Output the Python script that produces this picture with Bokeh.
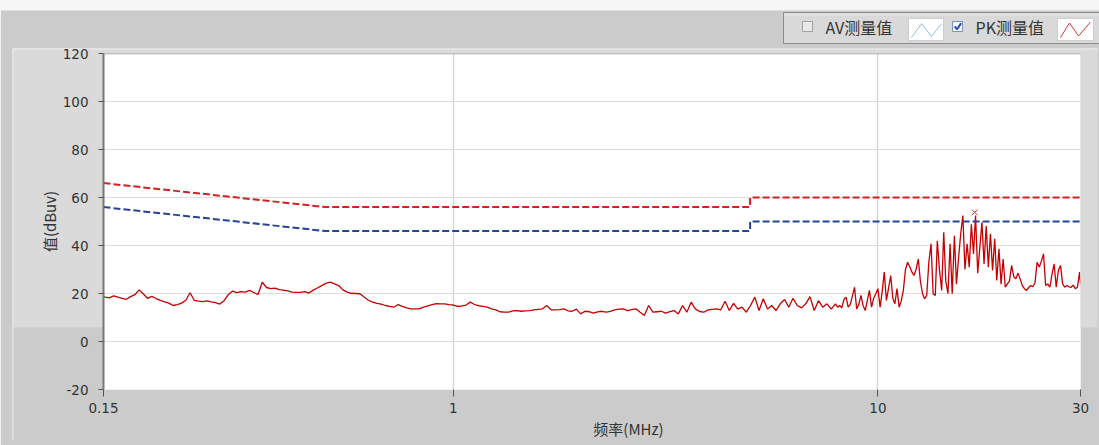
from math import log10, pi
from bokeh.plotting import figure
from bokeh.models import Span, FixedTicker, CustomJSTickFormatter, Range1d
from bokeh.core.properties import value
from bokeh.embed import file_html
from bokeh.resources import INLINE

# ---------------- data ----------------
freq_mhz = [
    0.15,
    0.1514, 0.1549, 0.1585, 0.1622, 0.1660, 0.1698, 0.1738, 0.1778, 0.1820, 0.1862,
    0.1905, 0.1950, 0.1995, 0.2042, 0.2089, 0.2138, 0.2188, 0.2239, 0.2291, 0.2344,
    0.2399, 0.2455, 0.2512, 0.2570, 0.2630, 0.2692, 0.2754, 0.2818, 0.2884, 0.2951,
    0.3020, 0.3090, 0.3162, 0.3236, 0.3311, 0.3388, 0.3467, 0.3548, 0.3631, 0.3715,
    0.3802, 0.3890, 0.3981, 0.4074, 0.4169, 0.4266, 0.4365, 0.4467, 0.4571, 0.4677,
    0.4786, 0.4898, 0.5012, 0.5129, 0.5248, 0.5370, 0.5495, 0.5623, 0.5754, 0.5888,
    0.6026, 0.6166, 0.6310, 0.6457, 0.6607, 0.6761, 0.6918, 0.7079, 0.7244, 0.7413,
    0.7586, 0.7762, 0.7943, 0.8128, 0.8318, 0.8511, 0.8710, 0.8913, 0.9120, 0.9333,
    0.9550, 0.9772,
    1.000, 1.023, 1.047, 1.072, 1.096, 1.122, 1.148, 1.175, 1.202, 1.230,
    1.259, 1.288, 1.318, 1.349, 1.380, 1.413, 1.445, 1.479, 1.514, 1.549,
    1.585, 1.622, 1.660, 1.698, 1.738, 1.778, 1.820, 1.862, 1.905, 1.950,
    1.995, 2.042, 2.089, 2.138, 2.188, 2.239, 2.291, 2.344, 2.399, 2.455,
    2.512, 2.570, 2.630, 2.692, 2.754, 2.818, 2.884, 2.951, 3.020, 3.090,
    3.162, 3.236, 3.311, 3.388, 3.467, 3.548, 3.631, 3.715, 3.802, 3.890,
    3.981, 4.074, 4.169, 4.266, 4.365, 4.467, 4.571, 4.677, 4.786, 4.898,
    5.012, 5.129, 5.248, 5.370, 5.495, 5.623, 5.754, 5.888, 6.026, 6.166,
    6.310, 6.457, 6.607, 6.761, 6.918, 7.079, 7.244, 7.413, 7.586, 7.762,
    7.943, 8.035, 8.128, 8.222, 8.318, 8.414, 8.511, 8.610, 8.710, 8.810,
    8.913, 9.016, 9.120, 9.226, 9.333, 9.441, 9.550, 9.661, 9.772, 9.886,
    10.00, 10.12, 10.23, 10.35, 10.47, 10.59, 10.72, 10.84, 10.96, 11.09,
    11.22, 11.35, 11.48, 11.61, 11.75, 11.89, 12.02, 12.16, 12.30, 12.45,
    12.59, 12.74, 12.88, 13.03, 13.18, 13.34, 13.49, 13.65, 13.80, 13.96,
    14.13, 14.29, 14.45, 14.62, 14.79, 14.96, 15.14, 15.31, 15.49, 15.67,
    15.85, 16.03, 16.22, 16.41, 16.60, 16.79, 16.98, 17.18, 17.38, 17.58,
    17.78, 17.99, 18.20, 18.41, 18.62, 18.84, 19.05, 19.28, 19.50, 19.72,
    19.95, 20.18, 20.42, 20.65, 20.89, 21.13, 21.38, 21.63, 21.88, 22.13,
    22.39, 22.65, 22.91, 23.17, 23.44, 23.71, 23.99, 24.27, 24.55, 24.83,
    25.12, 25.41, 25.70, 26.00, 26.30, 26.61, 26.92, 27.23, 27.54, 27.86,
    28.18, 28.51, 28.84, 29.17, 29.51, 29.85,
    30.0,
]

pk_dbuv = [
    18.7,
    18.5, 18.2, 19.0, 18.5, 18.0, 17.6, 18.7, 19.5, 21.5, 19.8,
    18.0, 18.8, 17.9, 17.1, 16.5, 16.0, 15.0, 15.4, 16.0, 17.2,
    20.3, 17.1, 16.8, 16.6, 16.9, 16.5, 16.2, 15.6, 17.0, 19.5,
    21.0, 20.4, 20.8, 20.6, 21.3, 20.4, 19.6, 24.7, 22.5, 22.0,
    22.2, 21.6, 21.4, 21.1, 20.6, 20.5, 20.5, 20.8, 20.2, 21.4,
    22.3, 23.3, 24.2, 24.7, 24.0, 23.3, 21.5, 20.6, 20.1, 20.0,
    19.9, 18.5, 17.2, 16.4, 15.9, 15.6, 15.0, 14.6, 14.3, 15.4,
    14.6, 14.0, 13.6, 13.6, 13.6, 14.3, 14.8, 15.4, 15.8, 15.7,
    15.7, 15.4,
    15.2, 14.6, 14.8, 15.2, 16.4, 15.4, 14.9, 14.6, 14.3, 13.6,
    13.2, 12.4, 12.2, 12.2, 12.8, 12.9, 12.6, 12.8, 12.9, 13.2,
    13.4, 13.6, 15.0, 13.2, 13.2, 13.3, 13.6, 12.8, 12.6, 13.5,
    11.5, 12.6, 12.4, 11.8, 12.3, 12.6, 12.2, 12.6, 13.2, 13.5,
    13.6, 12.9, 13.3, 13.6, 12.2, 10.8, 15.0, 12.2, 12.4, 12.6,
    11.8, 12.4, 12.9, 11.5, 15.0, 12.2, 16.4, 13.6, 12.5, 12.2,
    13.2, 13.4, 13.6, 13.2, 16.8, 12.9, 15.9, 13.5, 14.3, 12.2,
    15.0, 18.5, 12.9, 17.8, 13.5, 15.0, 12.9, 15.7, 17.5, 14.3,
    18.0, 15.0, 14.0, 15.7, 18.7, 12.9, 17.0, 14.3, 15.7, 13.5,
    15.7, 14.3, 15.0, 14.0, 17.5, 18.5, 14.3, 15.5, 19.0, 22.6,
    13.5, 15.5, 19.2, 15.0, 12.9, 17.0, 21.3, 14.3, 18.0, 19.9,
    22.0, 14.3, 20.5, 28.9, 17.1, 22.0, 27.5, 18.0, 15.7, 22.0,
    14.3, 17.0, 21.3, 30.0, 33.0, 31.0, 29.0, 27.5, 30.0, 34.4,
    25.0, 19.9, 17.8, 19.2, 33.0, 40.7, 19.9, 19.2, 42.0, 30.0,
    21.3, 45.5, 25.0, 19.9, 40.7, 19.9, 44.1, 23.9, 35.0, 45.0,
    52.5, 30.0, 40.7, 31.0, 48.8, 36.5, 52.5, 28.5, 39.3, 49.7,
    32.3, 48.1, 31.0, 44.9, 29.6, 42.8, 25.4, 38.6, 23.9, 34.4,
    22.6, 24.0, 25.4, 31.7, 27.0, 26.1, 28.5, 26.0, 23.3, 22.0,
    21.3, 22.5, 23.3, 22.8, 24.5, 33.0, 31.0, 33.5, 36.5, 23.3,
    24.0, 22.6, 28.0, 32.3, 22.6, 29.6, 31.7, 24.0, 22.6, 23.3,
    22.8, 22.6, 23.5, 22.0, 22.6, 28.9,
    23.9,
]

limit_freq = [0.15, 0.5, 5.0, 5.0, 30.0]
qp_limit = [66, 56, 56, 60, 60]
av_limit = [56, 46, 46, 50, 50]

peak_freq = [16.9]
peak_val = [53.8]

x_ticks = [0.15, 1, 10, 30]
y_ticks = [-20, 0, 20, 40, 60, 80, 100, 120]

legend_labels = ["AV测量值", "PK测量值"]
x_title = "频率(MHz)"
y_title = "值(dBuv)"

CJK = "Noto Sans CJK SC"
TICK_FONT = "DejaVu Sans"
DARK = "#cbcbcb"
LIGHT = "#dadada"

# ---------------- figure geometry (canvas pixels) ----------------
W, H = 1099, 445
FL, FT, FW, FH = 103, 53, 977, 336          # frame left, top, width, height
X0, X1, Y0, Y1 = 0.15, 30.0, -20.0, 120.0

p = figure(x_axis_type="log", output_backend="svg", toolbar_location=None,
           x_range=Range1d(X0, X1), y_range=Range1d(Y0, Y1),
           frame_width=FW, frame_height=FH,
           min_border_left=FL, min_border_right=W - FL - FW,
           min_border_top=FT, min_border_bottom=H - FT - FH)
p.border_fill_color = DARK
p.background_fill_color = "#ffffff"
p.outline_line_color = None


def px_x(X):
    """canvas pixel column -> data x (for decorations outside the frame)"""
    return 10 ** (log10(X0) + (X - FL) / FW * log10(X1 / X0))


def px_y(Y):
    """canvas pixel row -> data y"""
    return Y0 + (FT + FH - Y) / FH * (Y1 - Y0)


def deco_quad(l, r, t, b, fill, line=None, lw=1):
    p.quad(left=[px_x(l)], right=[px_x(r)], top=[px_y(t)], bottom=[px_y(b)],
           fill_color=fill, line_color=line, line_width=lw, level="guide")


def deco_line(xs, ys, color, lw=1):
    p.line([px_x(v) for v in xs], [px_y(v) for v in ys], line_color=color,
           line_width=lw, level="guide")


def deco_text(X, Y, txt, size, angle=0, align="left"):
    p.text(x=[px_x(X)], y=[px_y(Y)], text=[txt], text_font=value(CJK),
           text_font_size=value(size), text_color="#333333", text_baseline="middle",
           text_align=align, angle=angle, level="guide")


# window background pieces
deco_quad(0, W + 5, -5, 10, "#f6f6f6")                  # white strip at very top
deco_quad(12, FL, 48, 327, LIGHT)                       # left light panel
deco_quad(FL + FW, 1097, 48, 327, LIGHT)                # right light panel
deco_quad(12, 1097, 48, FT, LIGHT)                      # strip above the frame
deco_line([12.5, 12.5, 1097], [440, 48.5, 48.5], "#eeeeee", 1)

# legend strip
deco_quad(783, W + 5, 12, 43, "#d9d9d9", "#8c8c8c")
deco_quad(784, W + 5, 13, 15, "#e4e4e4")
deco_quad(802, 812, 21, 31, "#e9e9e9", "#a2a2a2")
deco_quad(952, 962, 21, 31, "#f7f7f7", "#7b8fb8")
deco_line([954.2, 956.6, 960.6], [25.8, 28.8, 22.6], "#2a4cc0", 2)
deco_quad(908, 943, 18, 40, "#ffffff", "#cfcfcf")
deco_quad(1057, 1093, 18, 40, "#ffffff", "#cfcfcf")
deco_line([911, 921, 931, 941], [37, 23, 36, 23], "#98bedc")
deco_line([1060, 1069, 1078, 1090], [37, 22.5, 35.5, 21.5], "#d23c3c")
deco_text(825, 26.5, legend_labels[0], "16px")
deco_text(975, 26.5, legend_labels[1], "16px")

# axis titles
deco_text(48.5, 221, y_title, "15px", angle=pi / 2, align="center")
deco_text(628, 428, x_title, "15px", align="center")

# ---------------- axes / grid ----------------
fmt = CustomJSTickFormatter(code="return tick.toString();")

p.xaxis.ticker = FixedTicker(ticks=x_ticks)
p.xaxis.formatter = fmt
p.xaxis.axis_line_color = None
p.xaxis.major_tick_line_color = "#555555"
p.xaxis.major_tick_out = 7
p.xaxis.major_tick_in = 0
p.xaxis.minor_tick_line_color = None
p.xaxis.major_label_standoff = 6
p.xaxis.major_label_text_font = TICK_FONT
p.xaxis.major_label_text_font_size = "13.5px"
p.xaxis.major_label_text_color = "#333333"

p.yaxis.ticker = FixedTicker(ticks=y_ticks)
p.yaxis.formatter = CustomJSTickFormatter(code="return tick.toString();")
p.yaxis.axis_line_color = "#777777"
p.yaxis.axis_line_width = 2
p.yaxis.major_tick_line_color = "#555555"
p.yaxis.major_tick_out = 5
p.yaxis.major_tick_in = 0
p.yaxis.minor_tick_line_color = None
p.yaxis.major_label_standoff = 10
p.yaxis.major_label_text_font = TICK_FONT
p.yaxis.major_label_text_font_size = "13.5px"
p.yaxis.major_label_text_color = "#333333"

p.xgrid.ticker = FixedTicker(ticks=x_ticks)
p.xgrid.grid_line_color = "#d6d6d6"
p.xgrid.grid_line_width = 1.5
p.ygrid.ticker = FixedTicker(ticks=y_ticks)
p.ygrid.grid_line_color = "#dddddd"
p.ygrid.grid_line_width = 1

p.add_layout(Span(location=Y1, dimension="width", line_color="#999999", line_width=1.5))

# ---------------- data marks ----------------
p.line(freq_mhz, pk_dbuv, line_color="#c40000", line_width=1.3)
p.line(limit_freq, qp_limit, line_color="#d42020", line_width=2, line_dash="7 3")
p.line(limit_freq, av_limit, line_color="#24449a", line_width=2, line_dash="7 3")
p.scatter(peak_freq, peak_val, marker="x", size=8, line_color="#d03030", line_width=1)

open("out.html", "w").write(file_html(p, INLINE))
